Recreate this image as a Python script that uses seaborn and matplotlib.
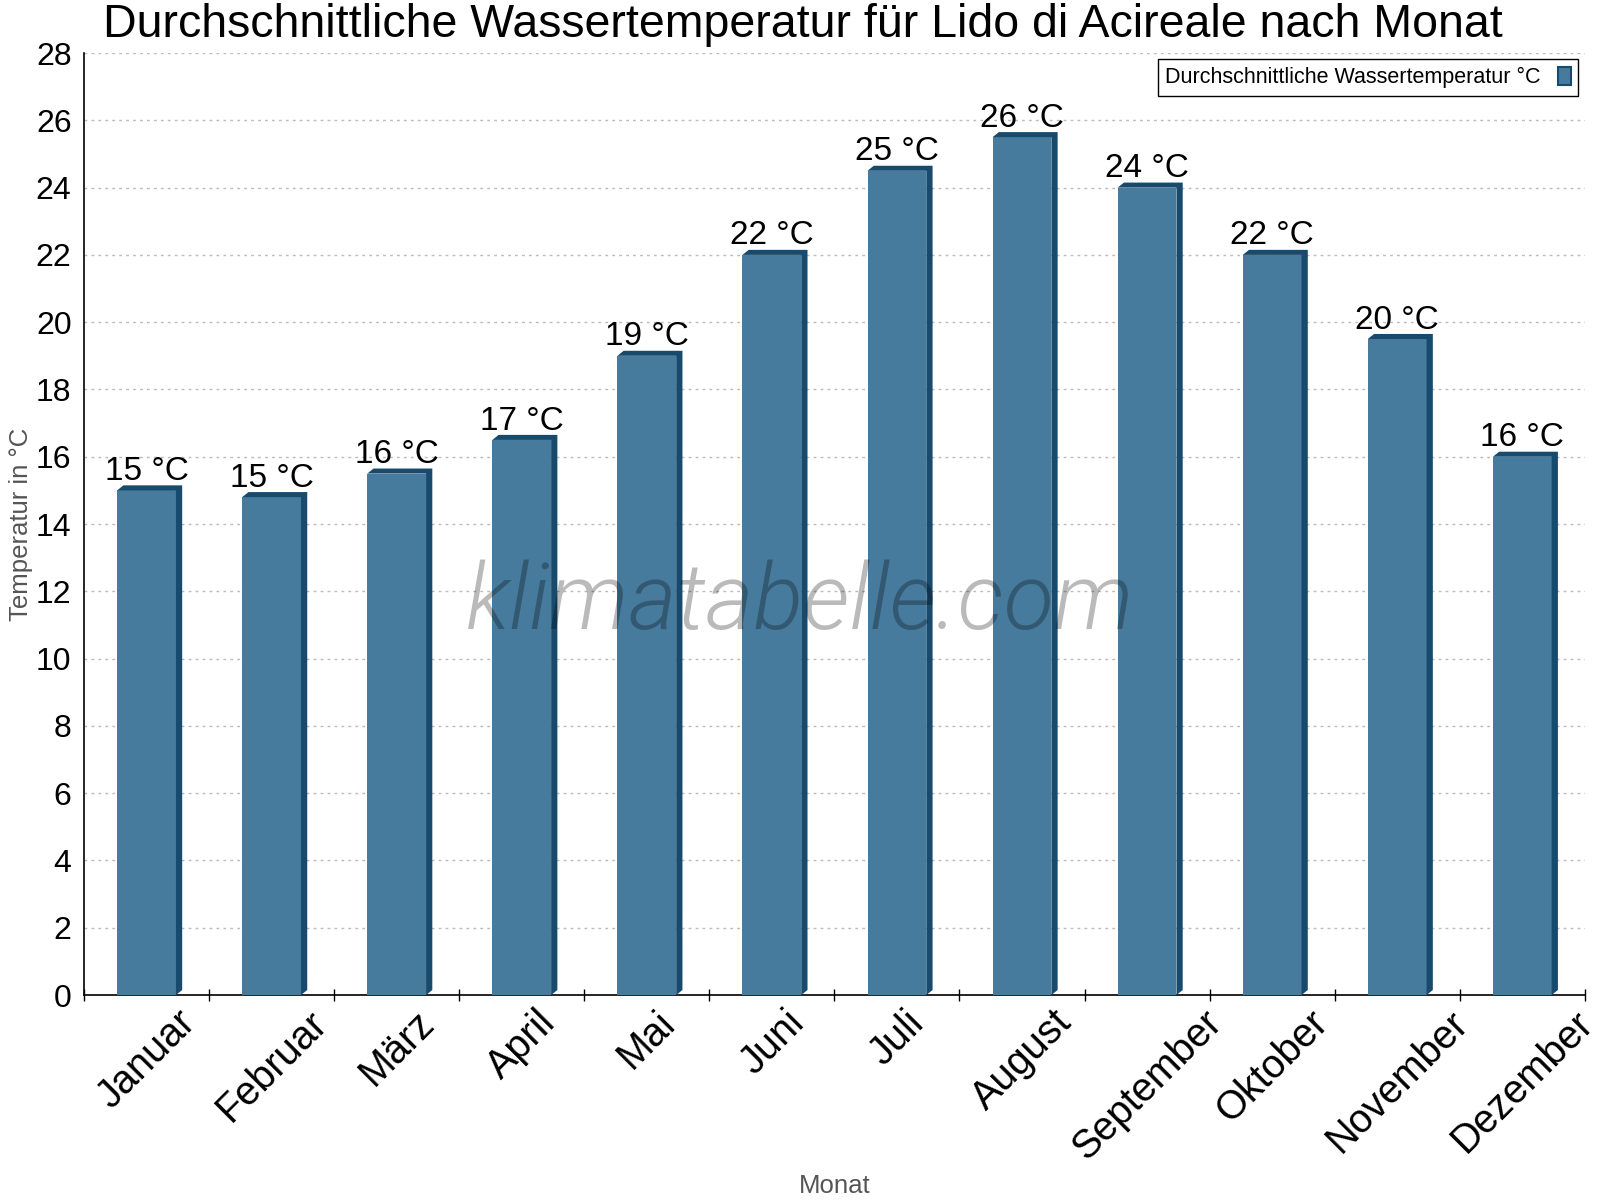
import numpy as np
import pandas as pd
import matplotlib
matplotlib.use("Agg")
import matplotlib.pyplot as plt
import seaborn as sns
from matplotlib.patches import Polygon, Patch
from matplotlib.ticker import FixedLocator

# data
months = ["Januar", "Februar", "März", "April", "Mai", "Juni",
          "Juli", "August", "September", "Oktober", "November", "Dezember"]
water_temp = [15.0, 14.8, 15.5, 16.5, 19.0, 22.0, 24.5, 25.5, 24.0, 22.0, 19.5, 16.0]
y_ticks = list(range(0, 29, 2))

TITLE = "Durchschnittliche Wassertemperatur für Lido di Acireale nach Monat"
SERIES = "Durchschnittliche Wassertemperatur °C"

FACE = "#467b9d"
DARK = "#174a6c"
GREY = "#555555"

sns.set_theme(style="white")
plt.rcParams["font.family"] = ["Liberation Sans", "DejaVu Sans"]
plt.rcParams["text.color"] = "black"
plt.rcParams["xtick.color"] = "black"
plt.rcParams["ytick.color"] = "black"

df = pd.DataFrame({"Monat": months, "Temp": water_temp})

fig = plt.figure(figsize=(16, 12), dpi=100)
ax = fig.add_axes([0.0525, 0.1708, 0.938, 0.785])

sns.barplot(data=df, x="Monat", y="Temp", color=FACE, saturation=1,
            width=0.47, ax=ax, zorder=3, linewidth=0, edgecolor="none")

# fake 3D extrusion: dark top and right strips
dx, dy = 0.05, 0.15
for p, v in zip(ax.patches, water_temp):
    x0 = p.get_x()
    x1 = x0 + p.get_width()
    h = p.get_height()
    pts = [(x0, h), (x0 + dx, h + dy), (x1 + dx, h + dy),
           (x1 + dx, dy), (x1, 0), (x1, h)]
    ax.add_patch(Polygon(pts, closed=True, facecolor=DARK, edgecolor="none", zorder=3))
    label = f"{int(np.floor(v + 0.5))} °C"
    ax.annotate(label, xy=(x0 + p.get_width() / 2, h), xytext=(0, 7.5),
                textcoords="offset points", ha="center", va="baseline",
                fontsize=24, color="black", zorder=5)

ax.set_xlim(-0.5, len(months) - 0.5)
ax.set_ylim(0, 28)
ax.set_yticks(y_ticks)
ax.yaxis.grid(True, color="#bbbbbb", linestyle=(0, (2, 3)), linewidth=1)
ax.xaxis.grid(False)
ax.set_axisbelow(True)

ax.tick_params(axis="y", which="major", direction="out", length=6, width=1,
               color="black", labelsize=23, pad=3, labelcolor="black")
ax.tick_params(axis="x", which="major", length=0, labelsize=28.5, pad=6, labelcolor="black")
ax.xaxis.set_minor_locator(FixedLocator(np.arange(-0.5, len(months), 1.0)))
ax.tick_params(axis="x", which="minor", direction="inout", length=8, width=1,
               color="black", bottom=True)
ax.set_xticks(range(len(months)))
ax.set_xticklabels(months, rotation=45, ha="center", rotation_mode="default")

for side in ["top", "right"]:
    ax.spines[side].set_visible(False)
for side in ["left", "bottom"]:
    ax.spines[side].set_color("black")
    ax.spines[side].set_linewidth(1.2)

ax.set_xlabel("Monat", fontsize=18.5, color=GREY)
ax.set_ylabel("Temperatur in °C", fontsize=18.5, color=GREY)
ax.xaxis.set_label_coords(0.5, -0.19)
ax.yaxis.set_label_coords(-0.034, 0.5)

fig.text(0.502, 1 - 37 / 1200, TITLE, ha="center", va="baseline", fontsize=33.5, color="black")

# watermark
fig.text(0.5, 1 - 629 / 1200, "klimatabelle.com", ha="center", va="baseline",
         fontsize=66.5, style="italic", family=["Roboto", "Liberation Sans"], weight=300,
         color="black", alpha=0.27, zorder=6)

handle = Patch(facecolor=FACE, edgecolor=DARK, linewidth=1.5)
leg = ax.legend([handle], [SERIES], loc="upper right", fontsize=15.5, markerfirst=False,
                frameon=True, fancybox=False, edgecolor="black", framealpha=1,
                borderaxespad=0.3, handlelength=0.6, handleheight=0.9, handletextpad=0.8,
                borderpad=0.35)
leg.get_frame().set_linewidth(1)

fig.savefig("out.png", dpi=100, facecolor="white")
